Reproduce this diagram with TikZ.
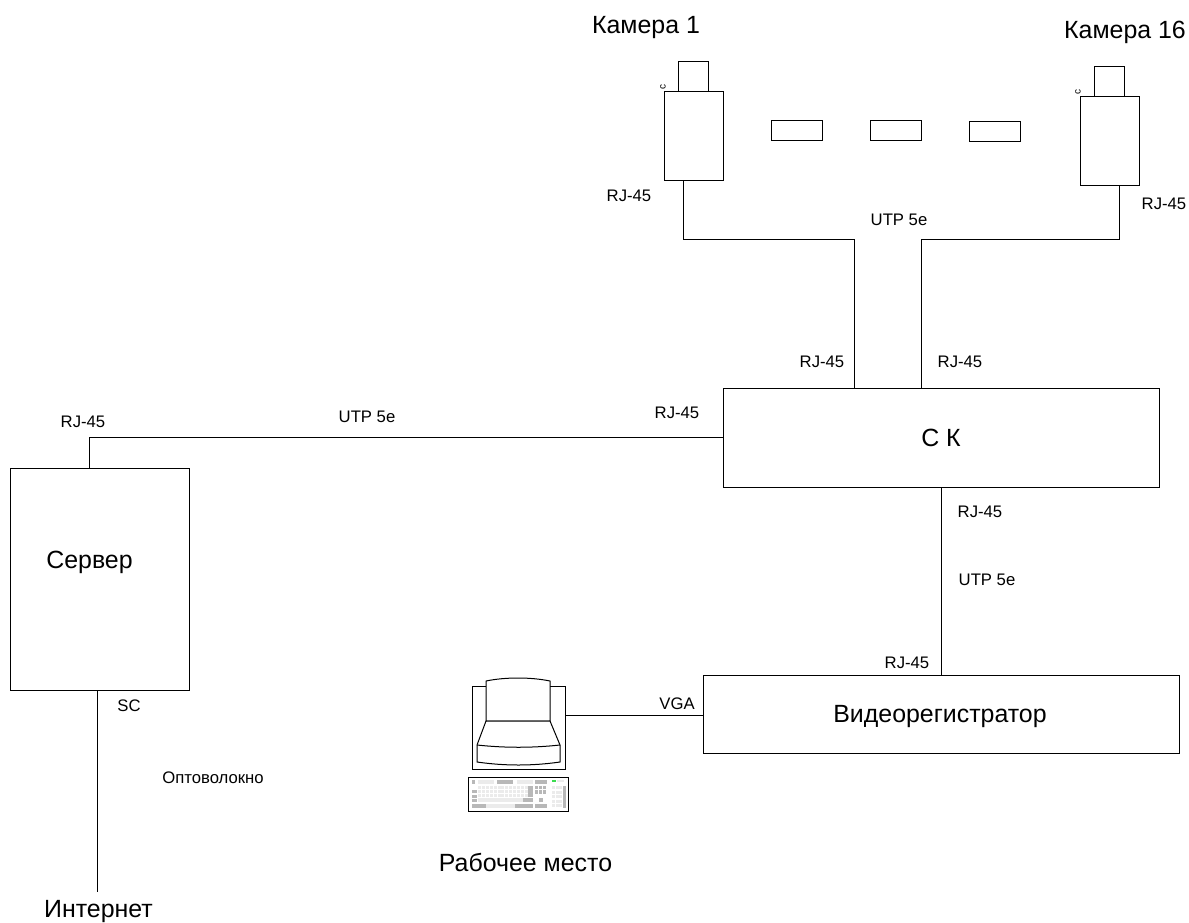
\documentclass[tikz,border=0pt]{standalone}
\usepackage{fontspec}
\setmainfont{Liberation Sans}
\newcommand{\fsmall}{\fontsize{16.7}{18}\selectfont}
\newcommand{\fbig}{\fontsize{24.9}{28}\selectfont}
\definecolor{keyl}{gray}{0.92}
\definecolor{keyd}{gray}{0.72}
\definecolor{keyg}{RGB}{60,220,80}
\begin{document}
\begin{tikzpicture}[x=1pt,y=-1pt,
  box/.style={draw=black,line width=1pt,fill=white},
  wire/.style={draw=black,line width=1pt},
  small/.style={inner sep=0pt,font=\fsmall},
  big/.style={inner sep=0pt,font=\fbig,anchor=base},
  tiny/.style={inner sep=0pt,font=\fontsize{10}{10}\selectfont,rotate=90},
  keya/.style={fill=keyl,draw=none},
  keyb/.style={fill=keyd,draw=none}]
\useasboundingbox (0,0) rectangle (1189,922);
\fill[white] (0,0) rectangle (1189,922);
% main boxes
\node[box,minimum width=436pt,minimum height=99pt,inner sep=0pt,anchor=north west] (sk) at (723,388) {};
\node[big] (tsk) at (941,446) {С К};
\node[box,minimum width=179pt,minimum height=222pt,inner sep=0pt,anchor=north west] (srv) at (10,468) {};
\node[big] (tsrv) at (89.5,568) {Сервер};
\node[box,minimum width=476pt,minimum height=78pt,inner sep=0pt,anchor=north west] (dvr) at (703,675) {};
\node[big] (tdvr) at (940,722) {Видеорегистратор};
% cameras
\node[box,minimum width=59pt,minimum height=89pt,inner sep=0pt,anchor=north west] (cam1) at (664,91) {};
\node[box,minimum width=30pt,minimum height=30pt,inner sep=0pt,anchor=north west] (lens1) at (678,61) {};
\node[tiny] (c1) at (663,87) {c};
\node[box,minimum width=59pt,minimum height=89pt,inner sep=0pt,anchor=north west] (cam16) at (1080,96) {};
\node[box,minimum width=30pt,minimum height=30pt,inner sep=0pt,anchor=north west] (lens16) at (1094,66) {};
\node[tiny] (c16) at (1078,92) {c};
% dots between cameras
\node[box,minimum width=51pt,minimum height=20pt,inner sep=0pt,anchor=north west] (d1) at (771,120) {};
\node[box,minimum width=51pt,minimum height=20pt,inner sep=0pt,anchor=north west] (d2) at (870,120) {};
\node[box,minimum width=51pt,minimum height=20pt,inner sep=0pt,anchor=north west] (d3) at (969,121) {};
% workplace: monitor
\coordinate (mon) at (565,715);
\draw[box] (472,686) rectangle (565,769);
\draw[box] (486,721) -- (486,681) .. controls (505,677) and (531,677) .. (550,681) -- (550,721) -- cycle;
\draw[box] (486,721) -- (477,745) -- (477,762) .. controls (505,766) and (532,766) .. (560,762) -- (560,745) -- (550,721) -- cycle;
\draw[wire] (477,745) .. controls (505,748) and (532,748) .. (560,745);
% keyboard
\draw[box] (468,777) rectangle (568,811);
\foreach \c in {0,...,12}{\foreach \r in {0,1,2}{
  \fill[keya] ({478+\c*3.9},{786+\r*4}) rectangle +(3,3.3);}}
\foreach \c in {0,1,2}{\foreach \r in {0,1}{\fill[keyb] ({535+\c*4.1},{786+\r*4.2}) rectangle +(3.2,3.4);}}
\foreach \c in {0,1,2}{\foreach \r in {0,...,4}{\fill[keya] ({552+\c*3.7},{786+\r*4.5}) rectangle +(2.9,3.4);}}
\fill[keyb] (563,786) rectangle (566,808);
\fill[keyb] (528,786) rectangle (533,797);
\foreach \r in {0,1,2,3}{\fill[keyb] (472,{790+\r*4.5}) rectangle +(5,3.4);}
\fill[keyb] (523,798) rectangle (533,802);
\fill[keya] (478,798) rectangle (523,802);
\fill[keyb] (472,803.5) rectangle (486,808);
\fill[keya] (486,803.5) rectangle (515,808);
\fill[keyb] (515,803.5) rectangle (533,808);
\fill[keyb] (535,803.5) rectangle (547,808);
\fill[keyb] (539,798) rectangle (543,802);
\fill[keyb] (472,780) rectangle (475,783.5);
\fill[keya] (478,780) rectangle (494,783.5);
\fill[keyb] (497,780) rectangle (513,783.5);
\fill[keya] (517,780) rectangle (533,783.5);
\fill[keyb] (535,780) rectangle (547,783.5);
\fill[keyg] (552,779.5) rectangle (555.5,781.5);
\fill[keya] (557,780) rectangle (564,782);
% connectors
\coordinate (c1a) at (683,180);
\coordinate (c16a) at (1119,185);
\draw[wire] (cam1.south -| c1a) |- (854,239) -- (sk.north -| 854,0);
\draw[wire] (cam16.south -| c16a) |- (921,239) -- (sk.north -| 921,0);
\draw[wire] (sk.west |- 0,437) -- (89,437) -- (srv.north -| 89,0);
\draw[wire] (sk.south -| 941,0) -- (dvr.north -| 941,0);
\draw[wire] (mon) -- (dvr.west |- mon);
\coordinate (inet) at (97,892);
\draw[wire] (srv.south -| inet) -- (inet);
% labels
\node[small] at (629,196) {RJ-45};
\node[small] at (1164,204) {RJ-45};
\node[small] at (899,220) {UTP 5e};
\node[small] at (822,362) {RJ-45};
\node[small] at (960,362) {RJ-45};
\node[small] at (677,413) {RJ-45};
\node[small] at (83,422) {RJ-45};
\node[small] at (367,417) {UTP 5e};
\node[small] at (980,512) {RJ-45};
\node[small] at (987,580) {UTP 5e};
\node[small] at (907,663) {RJ-45};
\node[small] at (677,704) {VGA};
\node[small] at (129,706) {SC};
\node[small] at (213,778) {Оптоволокно};
\node[big] at (646,33) {Камера 1};
\node[big] at (1125,38) {Камера 16};
\node[big] at (525.5,871) {Рабочее место};
\node[big] at (98.5,917) {Интернет};
\end{tikzpicture}
\end{document}
